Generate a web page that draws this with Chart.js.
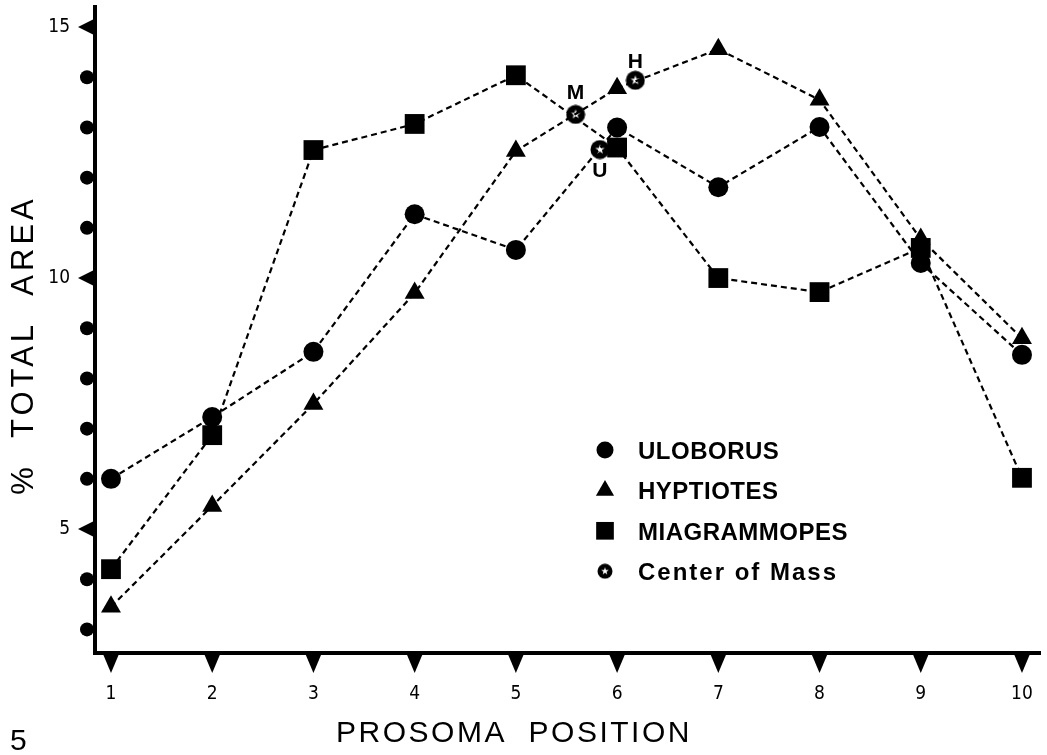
<!DOCTYPE html>
<html>
<head>
<meta charset="utf-8">
<script src="https://cdn.jsdelivr.net/npm/chart.js@4.4.1/dist/chart.umd.min.js"></script>
<style>
    html, body { margin: 0; padding: 0; background: #fff; }
    #wrap { width: 1047px; height: 755px; }
</style>
</head>
<body>
<div id="wrap"><canvas id="chart" width="1047" height="755"></canvas></div>
<script>
// values
const positions = [1, 2, 3, 4, 5, 6, 7, 8, 9, 10];
const uloborus = [6.0, 7.23, 8.53, 11.27, 10.56, 13.0, 11.81, 13.01, 10.3, 8.47];
const hyptiotes = [3.45, 5.46, 7.49, 9.7, 12.53, 13.78, 14.56, 13.55, 10.78, 8.8];
const miagrammopes = [4.2, 6.87, 12.55, 13.07, 14.04, 12.6, 10.0, 9.72, 10.6, 6.02];
const comNames = ["M", "H", "U"];
const comX = [5.59, 6.18, 5.83];
const comY = [13.26, 13.94, 12.56];
const yTicks = [3, 4, 5, 6, 7, 8, 9, 10, 11, 12, 13, 14, 15];
const yLabelled = [5, 10, 15];
const seriesNames = ["ULOBORUS", "HYPTIOTES", "MIAGRAMMOPES", "Center of Mass"];

const pts = (xs, ys) => xs.map((x, i) => ({ x: x, y: ys[i] }));

// black disc with a white star, used for the center of mass points
function starDisc(size) {
    const c = document.createElement("canvas");
    c.width = size; c.height = size;
    const g = c.getContext("2d");
    const m = size / 2;
    g.fillStyle = "#000";
    g.beginPath(); g.arc(m, m, m - 0.5, 0, Math.PI * 2); g.fill();
    g.fillStyle = "#fff";
    g.beginPath();
    const ro = size * 0.25, ri = size * 0.1;
    for (let k = 0; k < 10; k++) {
        const r = k % 2 ? ri : ro;
        const a = -Math.PI / 2 + k * Math.PI / 5;
        g.lineTo(m + r * Math.cos(a), m + r * Math.sin(a));
    }
    g.closePath(); g.fill();
    return c;
}
const comImg = starDisc(20);
const comImgSmall = starDisc(16);

const lineStyle = {
    borderColor: "#000",
    backgroundColor: "#000",
    borderWidth: 2.2,
    borderDash: [6, 4],
    pointBackgroundColor: "#000",
    pointBorderWidth: 0,
    tension: 0,
    fill: false
};

const axisFont = "'DejaVu Sans Condensed', 'Liberation Sans Narrow', 'DejaVu Sans', sans-serif";

// keep the plot box where the figure has it
function noScalePadding(s) {
    s.paddingTop = 0; s.paddingBottom = 0; s.paddingLeft = 0; s.paddingRight = 0;
}

const decorations = {
    id: "decorations",
    afterDraw(chart) {
        const ctx = chart.ctx;
        const xs = chart.scales.x, ys = chart.scales.y;
        const area = chart.chartArea;
        ctx.save();
        ctx.fillStyle = "#000";

        // corner of the two axis lines
        ctx.fillRect(area.left - 2, area.bottom - 2, 4, 4);

        // y axis: triangles at labelled values, half dots elsewhere
        yTicks.forEach(v => {
            const py = ys.getPixelForValue(v);
            ctx.beginPath();
            if (yLabelled.includes(v)) {
                ctx.moveTo(area.left, py - 8.5);
                ctx.lineTo(area.left - 17, py);
                ctx.lineTo(area.left, py + 8.5);
                ctx.closePath();
            } else {
                ctx.arc(area.left - 8, py, 7, 0, Math.PI * 2);
            }
            ctx.fill();
        });

        // x axis: downward triangles
        positions.forEach(v => {
            const px = xs.getPixelForValue(v);
            ctx.beginPath();
            ctx.moveTo(px - 8, area.bottom + 1);
            ctx.lineTo(px + 8, area.bottom + 1);
            ctx.lineTo(px, area.bottom + 20);
            ctx.closePath();
            ctx.fill();
        });

        // axis titles and figure number
        ctx.font = "30px 'Liberation Sans', Arial, sans-serif";
        ctx.letterSpacing = "2.5px";
        ctx.textAlign = "center";
        ctx.textBaseline = "alphabetic";
        ctx.fillText("PROSOMA  POSITION", 514, 742);
        ctx.save();
        ctx.translate(33, 345);
        ctx.rotate(-Math.PI / 2);
        ctx.font = "31px 'Liberation Sans', Arial, sans-serif";
        ctx.letterSpacing = "4px";
        ctx.fillText("%  TOTAL  AREA", 0, 0);
        ctx.restore();
        ctx.letterSpacing = "0px";
        ctx.textAlign = "left";
        ctx.fillText("5", 10, 750);

        // labels next to the center of mass points
        const comMeta = chart.getDatasetMeta(3);
        const labelShift = { M: -21, H: -18, U: 22 };
        ctx.font = "bold 21px 'Liberation Sans', Arial, sans-serif";
        ctx.textAlign = "center";
        ctx.textBaseline = "middle";
        comNames.forEach((n, i) => {
            const el = comMeta.data[i];
            ctx.fillText(n, el.x, el.y + labelShift[n]);
        });

        // legend
        const lx = 605, tx = 638, ly0 = 450, dy = 40.4;
        ctx.textAlign = "left";
        ctx.textBaseline = "alphabetic";
        chart.data.datasets.forEach((ds, i) => {
            const cy = ly0 + i * dy;
            if (ds.pointStyle instanceof HTMLCanvasElement) {
                ctx.drawImage(comImgSmall, lx - 8, cy - 8);
            } else {
                const r = { circle: 8.5, triangle: 10.5, rect: 12.5 }[ds.pointStyle];
                Chart.helpers.drawPoint(ctx, { pointStyle: ds.pointStyle, radius: r, rotation: 0, borderWidth: 0 }, lx, cy);
            }
            ctx.font = "bold 24px 'Liberation Sans', Arial, sans-serif";
            ctx.letterSpacing = i === 3 ? "2px" : "0.5px";
            ctx.fillText(ds.label, tx, cy + 9);
        });
        ctx.restore();
    }
};

new Chart(document.getElementById("chart"), {
    type: "line",
    data: {
        datasets: [
            Object.assign({ label: seriesNames[0], data: pts(positions, uloborus), pointStyle: "circle", pointRadius: 10 }, lineStyle),
            Object.assign({ label: seriesNames[1], data: pts(positions, hyptiotes), pointStyle: "triangle", pointRadius: 11.5 }, lineStyle),
            Object.assign({ label: seriesNames[2], data: pts(positions, miagrammopes), pointStyle: "rect", pointRadius: 14 }, lineStyle),
            { label: seriesNames[3], data: pts(comX, comY), showLine: false, pointStyle: comImg, pointRadius: 10 }
        ]
    },
    options: {
        responsive: false,
        animation: false,
        layout: { autoPadding: false, padding: { top: 7, right: 7, left: 0, bottom: 0 } },
        plugins: { legend: { display: false }, tooltip: { enabled: false } },
        scales: {
            x: {
                type: "linear",
                min: 0.842,
                max: 10.178,
                afterBuildTicks: s => { s.ticks = positions.map(v => ({ value: v })); },
                afterFit: s => { s.height = 102; noScalePadding(s); },
                grid: { display: false, drawTicks: false },
                border: { display: true, color: "#000", width: 4 },
                ticks: {
                    autoSkip: false, maxRotation: 0, padding: 30, color: "#000",
                    font: { family: axisFont, size: 19 },
                    callback: v => String(v)
                }
            },
            y: {
                min: 2.53,
                max: 15.4,
                afterBuildTicks: s => { s.ticks = yTicks.map(v => ({ value: v })); },
                afterFit: s => { s.width = 95; noScalePadding(s); },
                grid: { display: false, drawTicks: false },
                border: { display: true, color: "#000", width: 4 },
                ticks: {
                    autoSkip: false, padding: 25, color: "#000",
                    font: { family: axisFont, size: 19 },
                    callback: v => yLabelled.includes(v) ? String(v) : ""
                }
            }
        }
    },
    plugins: [decorations]
});
</script>
</body>
</html>
